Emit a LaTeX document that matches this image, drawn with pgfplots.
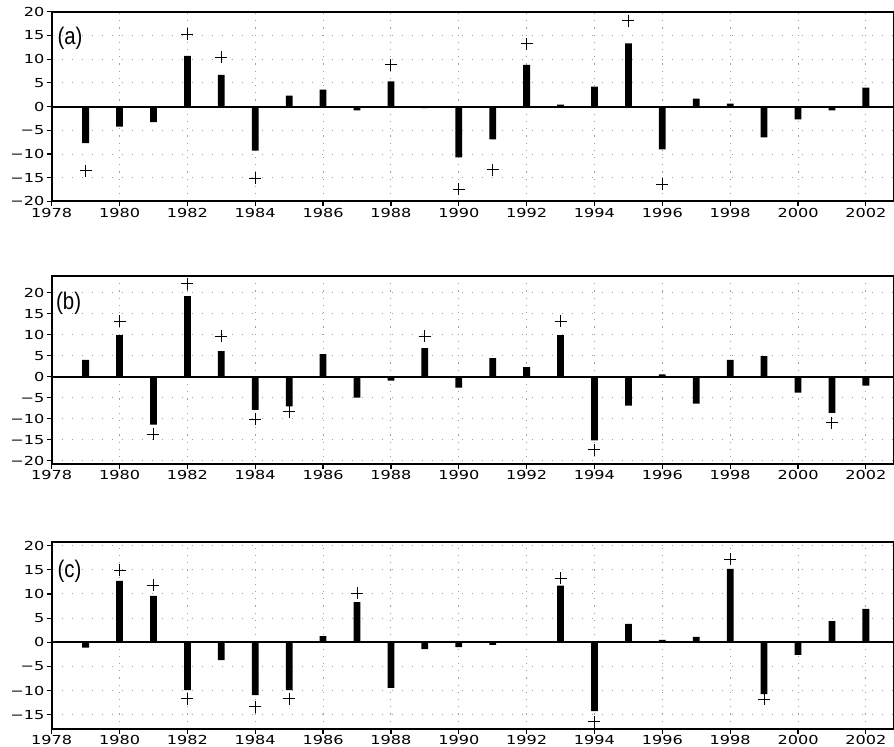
\documentclass[border=0pt]{standalone}
\usepackage{fontspec}
\setmainfont{Liberation Sans}
\newfontfamily\tickfont[FakeStretch=1.3]{DejaVu Sans}
\newfontfamily\labfont[FakeStretch=0.85]{Liberation Sans}
\usepackage{pgfplots}
\pgfplotsset{compat=1.18}
\usepackage{pgfplotstable}

\pgfplotstableread{
year val
1979 -7.7
1980 -4.2
1981 -3.3
1982 10.7
1983 6.7
1984 -9.3
1985 2.3
1986 3.6
1987 -0.8
1988 5.3
1989 -0.35
1990 -10.7
1991 -6.9
1992 8.8
1993 0.4
1994 4.2
1995 13.3
1996 -9.0
1997 1.7
1998 0.6
1999 -6.5
2000 -2.7
2001 -0.8
2002 4.0
}\barsA
\pgfplotstableread{
year val
1979 -13.5
1982 15.2
1983 10.4
1984 -15.1
1988 8.8
1990 -17.4
1991 -13.3
1992 13.2
1995 18.1
1996 -16.4
}\plusA
\pgfplotstableread{
year val
1979 4.0
1980 9.9
1981 -11.4
1982 19.2
1983 6.1
1984 -7.9
1985 -7.1
1986 5.4
1987 -5.0
1988 -0.95
1989 6.8
1990 -2.6
1991 4.4
1992 2.3
1993 9.9
1994 -15.2
1995 -6.9
1996 0.55
1997 -6.4
1998 4.0
1999 4.9
2000 -3.8
2001 -8.6
2002 -2.1
}\barsB
\pgfplotstableread{
year val
1980 13.2
1981 -13.7
1982 22.1
1983 9.6
1984 -10.2
1985 -8.4
1989 9.6
1993 13.2
1994 -17.4
2001 -11.0
}\plusB
\pgfplotstableread{
year val
1979 -1.1
1980 12.7
1981 9.6
1982 -9.9
1983 -3.7
1984 -10.9
1985 -9.9
1986 1.3
1987 8.3
1988 -9.4
1989 -1.4
1990 -1.0
1991 -0.55
1992 0
1993 11.7
1994 -14.2
1995 3.8
1996 0.5
1997 1.1
1998 15.2
1999 -10.7
2000 -2.6
2001 4.4
2002 6.9
}\barsC
\pgfplotstableread{
year val
1980 14.9
1981 11.8
1982 -11.7
1984 -13.3
1985 -11.7
1987 10.1
1993 13.2
1994 -16.4
1998 17.2
1999 -11.8
}\plusC

\tikzset{plab/.style={anchor=west, inner sep=0pt, font=\labfont\fontsize{12}{14}\selectfont}}
\pgfplotsset{
  panel/.style={
    scale only axis,
    width=421.15pt,
    xmin=1978, xmax=2002.83,
    xtick={1978,1980,...,2002},
    xticklabels={1978,1980,1982,1984,1986,1988,1990,1992,1994,1996,1998,2000,2002},
    minor x tick num=1,
    tick align=outside,
    xtick pos=left, ytick pos=left,
    major tick length=2.5pt, minor tick length=1.2pt,
    tick style={black, line width=0.6pt},
    axis line style={line width=1pt},
    grid=major,
    major x grid style={gray!75, line width=0.5pt, dash pattern=on 0.6pt off 3pt},
    major y grid style={gray!75, line width=0.5pt, dash pattern=on 0.6pt off 4.4pt},
    tick label style={font=\tickfont\fontsize{6.2}{7}\selectfont},
    xticklabel style={inner sep=0.5pt},
    yticklabel style={inner sep=1pt},
    extra y ticks={0},
    extra y tick labels={},
    extra y tick style={
      major tick length=0pt,
      major y grid style={solid, black, line width=1pt},
    },
  },
  bars/.style={ybar, bar width=0.2, bar shift=0pt, fill=black, draw=none},
  pluses/.style={only marks, mark=+, mark size=3pt, mark options={line width=0.5pt}, black},
}

\begin{document}
\begin{tikzpicture}
\begin{axis}[panel, at={(25.85pt,-5.85pt)}, anchor=north west, height=94.9pt,
  ymin=-20, ymax=20, ytick={-20,-15,...,20},
  yticklabels={−20,−15,−10,−5,0,5,10,15,20}]
\addplot[bars] table {\barsA};
\addplot[pluses] table {\plusA};
\node[plab] at (axis cs:1978.16,14.3) {(a)};
\end{axis}
\begin{axis}[panel, at={(25.85pt,-138pt)}, anchor=north west, height=94.2pt,
  ymin=-20.9, ymax=24, ytick={-20,-15,...,20},
  yticklabels={−20,−15,−10,−5,0,5,10,15,20}]
\addplot[bars] table {\barsB};
\addplot[pluses] table {\plusB};
\node[plab] at (axis cs:1978.12,17.5) {(b)};
\end{axis}
\begin{axis}[panel, at={(25.85pt,-270.85pt)}, anchor=north west, height=93.6pt,
  ymin=-17.9, ymax=20.8, ytick={-15,-10,...,20},
  yticklabels={−15,−10,−5,0,5,10,15,20}]
\addplot[bars] table {\barsC};
\addplot[pluses] table {\plusC};
\node[plab] at (axis cs:1978.16,14.7) {(c)};
\end{axis}
\pgfresetboundingbox
\useasboundingbox (0pt,0pt) rectangle (447pt,-373.5pt);
\end{tikzpicture}
\end{document}
